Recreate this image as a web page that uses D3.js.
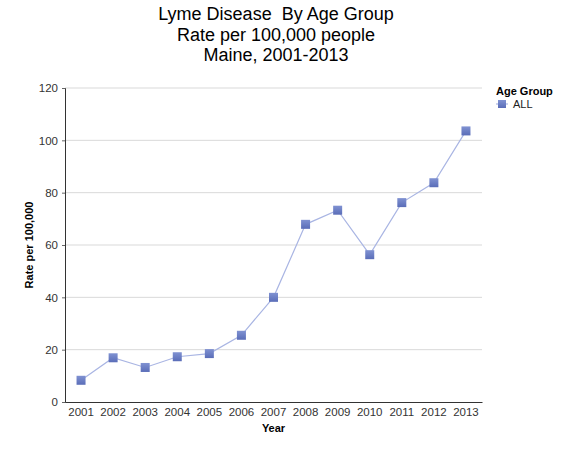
<!DOCTYPE html>
<html>
<head>
<meta charset="utf-8">
<script src="https://cdn.jsdelivr.net/npm/d3@7"></script>
<style>
  body { margin: 0; background: #fff; }
  svg { font-family: "Liberation Sans", Arial, sans-serif; }
</style>
</head>
<body>
<svg></svg>
<script>
const years = ["2001","2002","2003","2004","2005","2006","2007","2008","2009","2010","2011","2012","2013"];
const rates = [8.3, 16.9, 13.2, 17.3, 18.5, 25.5, 40.0, 67.9, 73.3, 56.3, 76.2, 83.8, 103.6];
const yTicks = [0, 20, 40, 60, 80, 100, 120];
const titleLines = ["Lyme Disease  By Age Group", "Rate per 100,000 people", "Maine, 2001-2013"];

const width = 580, height = 450;
const margin = {top: 88, right: 98, bottom: 48, left: 65};

const svg = d3.select("svg").attr("width", width).attr("height", height);

const x = d3.scaleBand().domain(years).range([margin.left, width - margin.right]);
const y = d3.scaleLinear().domain([0, 120]).range([height - margin.bottom, margin.top]);

// title (keep the double space)
svg.append("g").selectAll("text")
  .data(titleLines)
  .enter().append("text")
  .attr("x", 276)
  .attr("y", (d, i) => 20 + i * 20.5)
  .attr("text-anchor", "middle")
  .style("white-space", "pre")
  .style("font-size", "18px")
  .style("fill", "#000")
  .text(d => d);

// gridlines
svg.append("g").selectAll("line")
  .data(yTicks.filter(d => d > 0))
  .enter().append("line")
  .attr("x1", margin.left).attr("x2", width - margin.right)
  .attr("y1", d => y(d)).attr("y2", d => y(d))
  .style("stroke", "#d9d9d9").style("stroke-width", 1);

// y axis
const yAxis = svg.append("g")
  .attr("transform", `translate(${margin.left},0)`)
  .call(d3.axisLeft(y).tickValues(yTicks).tickSize(3).tickPadding(4));
yAxis.select(".domain").style("stroke", "#333");
yAxis.selectAll(".tick line").style("stroke", "#666");
yAxis.selectAll("text").style("font-size", "11.5px").style("fill", "#333");

// x axis
const xAxis = svg.append("g")
  .attr("transform", `translate(0,${height - margin.bottom})`)
  .call(d3.axisBottom(x).tickSize(0).tickPadding(6));
xAxis.select(".domain").style("stroke", "#333");
xAxis.selectAll("text").style("font-size", "11.5px").style("fill", "#333");

// axis titles
svg.append("text")
  .attr("x", (margin.left + width - margin.right) / 2)
  .attr("y", 432)
  .attr("text-anchor", "middle")
  .style("font-size", "11px").style("font-weight", "bold")
  .text("Year");

svg.append("text")
  .attr("transform", `translate(33,${(margin.top + height - margin.bottom) / 2}) rotate(-90)`)
  .attr("text-anchor", "middle")
  .style("font-size", "11px").style("font-weight", "bold")
  .text("Rate per 100,000");

// line
const line = d3.line()
  .x((d, i) => x(years[i]) + x.bandwidth() / 2)
  .y(d => y(d));

svg.append("path")
  .datum(rates)
  .attr("d", line)
  .style("fill", "none")
  .style("stroke", "#a9b5e3")
  .style("stroke-width", 1.2);

// markers
const defs = svg.append("defs");
const grad = defs.append("linearGradient").attr("id", "mk").attr("x1", 0).attr("y1", 0).attr("x2", 0).attr("y2", 1);
grad.append("stop").attr("offset", "0%").attr("stop-color", "#8092d2");
grad.append("stop").attr("offset", "100%").attr("stop-color", "#5a6db8");

const ms = 9;
svg.append("g").selectAll("rect")
  .data(rates)
  .enter().append("rect")
  .attr("x", (d, i) => x(years[i]) + x.bandwidth() / 2 - ms / 2)
  .attr("y", d => y(d) - ms / 2)
  .attr("width", ms).attr("height", ms)
  .style("fill", "url(#mk)");

// legend
const lg = svg.append("g").attr("transform", "translate(496,0)");
lg.append("text")
  .attr("x", 0).attr("y", 95)
  .style("font-size", "11px").style("font-weight", "bold")
  .text("Age Group");
lg.append("line")
  .attr("x1", 0).attr("x2", 12).attr("y1", 104).attr("y2", 104)
  .style("stroke", "#a9b5e3").style("stroke-width", 1.2);
lg.append("rect")
  .attr("x", 2).attr("y", 100).attr("width", 8).attr("height", 8)
  .style("fill", "url(#mk)");
lg.append("text")
  .attr("x", 17).attr("y", 108)
  .style("font-size", "11px").style("fill", "#222")
  .text("ALL");
</script>
</body>
</html>
